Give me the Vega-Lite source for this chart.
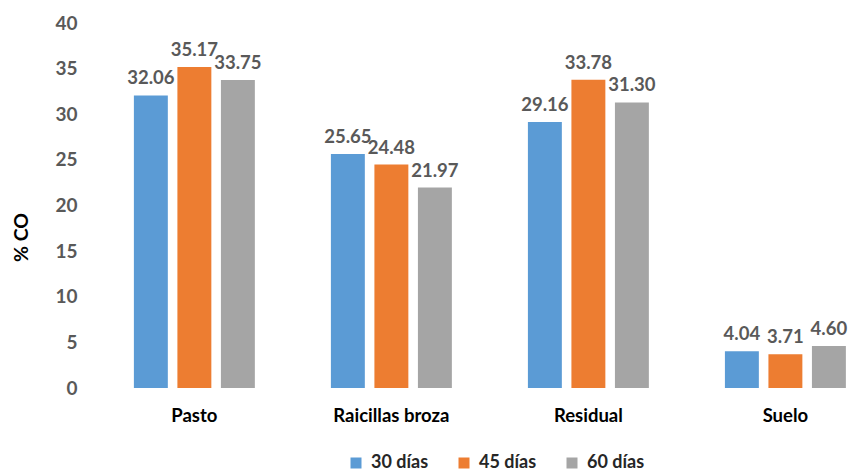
{
  "$schema": "https://vega.github.io/schema/vega-lite/v6.json",
  "background": "white",
  "autosize": {"type": "none"},
  "padding": {"left": 85, "top": 23, "right": 0, "bottom": 85},
  "width": 764,
  "height": 365,
  "config": {
    "font": "Lato",
    "view": {"stroke": null},
    "axis": {"grid": false, "domain": false, "ticks": false}
  },
  "data": {
    "values": [
      {"categoria": "Pasto", "periodo": "30 días", "co": 32.06},
      {"categoria": "Pasto", "periodo": "45 días", "co": 35.17},
      {"categoria": "Pasto", "periodo": "60 días", "co": 33.75},
      {"categoria": "Raicillas broza", "periodo": "30 días", "co": 25.65},
      {"categoria": "Raicillas broza", "periodo": "45 días", "co": 24.48},
      {"categoria": "Raicillas broza", "periodo": "60 días", "co": 21.97},
      {"categoria": "Residual", "periodo": "30 días", "co": 29.16},
      {"categoria": "Residual", "periodo": "45 días", "co": 33.78},
      {"categoria": "Residual", "periodo": "60 días", "co": 31.30},
      {"categoria": "Suelo", "periodo": "30 días", "co": 4.04},
      {"categoria": "Suelo", "periodo": "45 días", "co": 3.71},
      {"categoria": "Suelo", "periodo": "60 días", "co": 4.60}
    ]
  },
  "encoding": {
    "x": {
      "field": "categoria",
      "type": "nominal",
      "sort": null,
      "scale": {"paddingInner": 0.386, "paddingOuter": 0.132, "align": 0.94},
      "axis": {
        "title": null,
        "labelAngle": 0,
        "labelFontSize": 18.5,
        "labelFontWeight": "bold",
        "labelColor": "#000000",
        "labelPadding": 18
      }
    },
    "xOffset": {
      "field": "periodo",
      "type": "nominal",
      "sort": null,
      "scale": {"paddingInner": 0.22}
    },
    "y": {
      "field": "co",
      "type": "quantitative",
      "scale": {"domain": [0, 40]},
      "axis": {
        "title": "% CO",
        "titleFontSize": 19.5,
        "titleFontWeight": "bold",
        "titleColor": "#000000",
        "titleX": -54,
        "titleY": 214,
        "values": [0, 5, 10, 15, 20, 25, 30, 35, 40],
        "labelOverlap": false,
        "labelFontSize": 19,
        "labelFontWeight": "bold",
        "labelColor": "#595959",
        "labelPadding": 8
      }
    }
  },
  "layer": [
    {
      "mark": {"type": "bar"},
      "encoding": {
        "color": {
          "field": "periodo",
          "type": "nominal",
          "sort": null,
          "scale": {"range": ["#5B9BD5", "#ED7D31", "#A5A5A5"]},
          "legend": {
            "title": null,
            "orient": "none",
            "direction": "horizontal",
            "legendX": 262,
            "legendY": 431,
            "padding": 0,
            "symbolType": "square",
            "symbolSize": 121,
            "symbolStrokeWidth": 0,
            "labelFontSize": 18,
            "labelFontWeight": "bold",
            "labelColor": "#262626",
            "labelOffset": 6,
            "columnPadding": 26
          }
        }
      }
    },
    {
      "mark": {
        "type": "text",
        "dy": -17,
        "fontSize": 18.5,
        "fontWeight": "bold",
        "color": "#595959"
      },
      "encoding": {
        "text": {"field": "co", "type": "quantitative", "format": ".2f"}
      }
    }
  ]
}
